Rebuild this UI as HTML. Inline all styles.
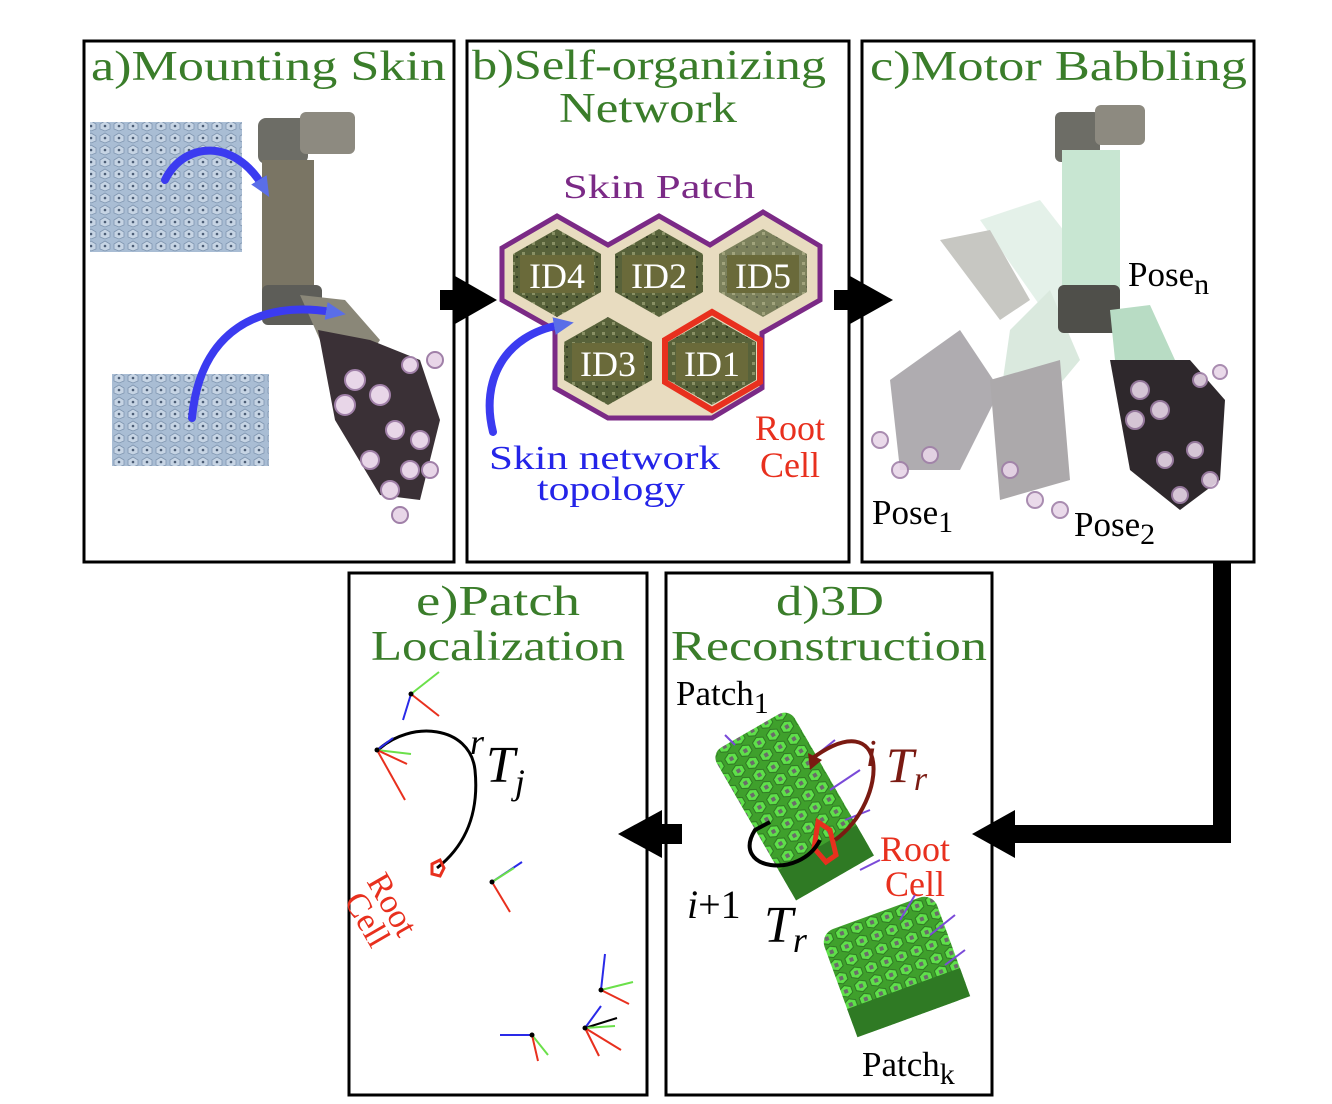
<!DOCTYPE html>
<html><head><meta charset="utf-8"><style>
html,body{margin:0;padding:0;background:#fff;}
svg{display:block}
text{font-family:"Liberation Serif",serif;}
</style></head><body>
<svg width="1332" height="1104" viewBox="0 0 1332 1104" xmlns="http://www.w3.org/2000/svg">
<defs>
<pattern id="hexg" width="14" height="12" patternUnits="userSpaceOnUse">
<rect width="14" height="12" fill="#a9bdd4"/>
<polygon points="7,1 12,4 12,9 7,11 2,9 2,4" fill="#c6d4e4" stroke="#7f95b0" stroke-width="0.8"/>
<circle cx="7" cy="6" r="1.3" fill="#4c5d75"/>
</pattern>
<pattern id="greenp" width="16" height="14" patternUnits="userSpaceOnUse">
<rect width="16" height="14" fill="#3fa02c"/>
<polygon points="8,1 14,4 14,10 8,13 2,10 2,4" fill="#5fe04a" stroke="#2a6a20" stroke-width="0.8"/>
<rect x="6" y="5" width="4" height="4" fill="#6b6b6b"/>
</pattern>
<pattern id="texp" width="10" height="10" patternUnits="userSpaceOnUse">
<rect width="10" height="10" fill="#58623a"/>
<rect x="2" y="2" width="3" height="3" fill="#8a9166"/>
<rect x="6" y="6" width="2" height="2" fill="#2f3a22"/>
</pattern>
<marker id="ah" markerUnits="userSpaceOnUse" markerWidth="22" markerHeight="22" refX="6" refY="11" orient="auto"><path d="M0,2 L20,11 L0,20 z" fill="#5a6ee8"/></marker>
</defs>

<g fill="none" stroke="#000" stroke-width="3">
<rect x="84" y="41" width="370" height="521"/>
<rect x="467" y="41" width="382" height="521"/>
<rect x="862" y="41" width="392" height="521"/>
<rect x="349" y="573" width="298" height="522"/>
<rect x="666" y="573" width="326" height="522"/>
</g>

<rect x="440" y="290" width="22" height="20" fill="#000"/>
<polygon points="455,276 497,300 455,324" fill="#000"/>
<rect x="834" y="290" width="22" height="20" fill="#000"/>
<polygon points="850,276 893,300 850,324" fill="#000"/>
<polyline points="1222,562 1222,834 1010,834" fill="none" stroke="#000" stroke-width="18"/>
<polygon points="1015,810 972,834 1015,858" fill="#000"/>
<rect x="658" y="824" width="24" height="20" fill="#000"/>
<polygon points="662,810 618,834 662,858" fill="#000"/>

<g fill="#3a7d2a" font-size="42">
<text x="91" y="80" textLength="355" lengthAdjust="spacingAndGlyphs">a)Mounting Skin</text>
<text x="472" y="79" textLength="354" lengthAdjust="spacingAndGlyphs">b)Self-organizing</text>
<text x="559" y="122" textLength="178" lengthAdjust="spacingAndGlyphs">Network</text>
<text x="870" y="80" textLength="377" lengthAdjust="spacingAndGlyphs">c)Motor Babbling</text>
<text x="416" y="615" textLength="164" lengthAdjust="spacingAndGlyphs">e)Patch</text>
<text x="371" y="660" textLength="254" lengthAdjust="spacingAndGlyphs">Localization</text>
<text x="776" y="615" textLength="108" lengthAdjust="spacingAndGlyphs">d)3D</text>
<text x="671" y="660" textLength="316" lengthAdjust="spacingAndGlyphs">Reconstruction</text>
</g>

<!-- panel a -->
<rect x="90" y="122" width="152" height="130" fill="url(#hexg)"/>
<rect x="112" y="374" width="157" height="92" fill="url(#hexg)"/>
<g>
<rect x="258" y="118" width="50" height="46" rx="8" fill="#6d6d66"/>
<rect x="300" y="112" width="55" height="42" rx="6" fill="#8d8a80"/>
<rect x="262" y="160" width="52" height="130" fill="#7a7564"/>
<rect x="262" y="285" width="60" height="40" rx="6" fill="#5d5d58"/>
<polygon points="300,295 345,300 380,340 360,370 320,340" fill="#8a8778"/>
<polygon points="318,330 370,340 420,360 440,420 420,500 380,495 335,420" fill="#3a3036"/>
<g fill="#e8d6e8" stroke="#a080a8" stroke-width="2">
<circle cx="355" cy="380" r="10"/><circle cx="380" cy="395" r="10"/><circle cx="345" cy="405" r="10"/>
<circle cx="410" cy="365" r="8"/><circle cx="435" cy="360" r="8"/><circle cx="395" cy="430" r="9"/>
<circle cx="420" cy="440" r="9"/><circle cx="410" cy="470" r="9"/><circle cx="390" cy="490" r="9"/>
<circle cx="370" cy="460" r="9"/><circle cx="430" cy="470" r="8"/><circle cx="400" cy="515" r="8"/>
</g>
</g>
<path d="M165,180 C185,140 235,140 262,185" fill="none" stroke="#3b3bf0" stroke-width="8" marker-end="url(#ah)" stroke-linecap="round"/>
<path d="M192,418 C200,330 260,300 332,312" fill="none" stroke="#3b3bf0" stroke-width="8" marker-end="url(#ah)" stroke-linecap="round"/>

<!-- panel b -->
<text x="563" y="198" fill="#7b2a86" font-size="34" textLength="192" lengthAdjust="spacingAndGlyphs">Skin Patch</text>
<polygon points="502,248 557,216 608,245 659,216 710,245 763,212 820,246 820,300 762,333 762,388 712,418 608,418 555,388 555,330 502,300" fill="#e8dcc0" stroke="#7b2a86" stroke-width="5"/>
<g fill="url(#texp)">
<polygon points="557,229 601,254 601,292 557,317 513,292 513,254"/>
<polygon points="659,229 703,254 703,292 659,317 615,292 615,254"/>
<polygon points="763,229 807,254 807,292 763,317 719,292 719,254" opacity="0.75"/>
<polygon points="608,317 652,342 652,380 608,405 564,380 564,342"/>
<polygon points="712,317 756,342 756,380 712,405 668,380 668,342"/>
</g>
<polygon points="712,312 760,340 760,382 712,410 665,382 665,340" fill="none" stroke="#e8301e" stroke-width="6"/>
<g fill="#6a6a3a">
<rect x="520" y="255" width="74" height="38"/><rect x="622" y="255" width="74" height="38"/><rect x="727" y="255" width="72" height="38"/>
<rect x="572" y="343" width="72" height="38"/><rect x="676" y="343" width="72" height="38"/>
</g>
<g fill="#fff" font-size="36" text-anchor="middle">
<text x="557" y="288">ID4</text><text x="659" y="288">ID2</text><text x="763" y="288">ID5</text>
<text x="608" y="376">ID3</text><text x="712" y="376">ID1</text>
</g>
<path d="M493,432 C480,380 505,335 560,325" fill="none" stroke="#3b3bf0" stroke-width="8" marker-end="url(#ah)" stroke-linecap="round"/>
<g fill="#2424e8" font-size="34">
<text x="489" y="469" textLength="231" lengthAdjust="spacingAndGlyphs">Skin network</text><text x="537" y="500" textLength="148" lengthAdjust="spacingAndGlyphs">topology</text>
</g>
<g fill="#e8301e" font-size="36" text-anchor="middle">
<text x="790" y="440">Root</text><text x="790" y="477">Cell</text>
</g>

<!-- panel c -->
<g opacity="0.55">
<polygon points="980,220 1040,200 1110,290 1050,320" fill="#cfe6d8"/>
<polygon points="940,240 990,230 1030,300 1000,320" fill="#9a9a92"/>
<polygon points="890,380 960,330 1000,390 960,470 900,470" fill="#6e6a70"/>
<polygon points="1010,330 1050,290 1080,360 1030,420 1000,400" fill="#bcd8c4"/>
<polygon points="990,380 1060,360 1070,480 1000,500" fill="#6a6468"/>
</g>
<rect x="1055" y="112" width="45" height="50" rx="6" fill="#6d6d66"/>
<rect x="1095" y="105" width="50" height="40" rx="6" fill="#8d8a80"/>
<rect x="1062" y="150" width="58" height="140" fill="#c8e6d2"/>
<rect x="1058" y="285" width="62" height="48" rx="6" fill="#4f4f4a"/>
<polygon points="1110,310 1150,305 1175,360 1150,390 1115,360" fill="#b8dcc4"/>
<polygon points="1110,360 1190,360 1225,400 1220,480 1180,510 1130,470" fill="#2e282c"/>
<g fill="#e8d6e8" stroke="#a080a8" stroke-width="2" opacity="0.9">
<circle cx="1140" cy="390" r="9"/><circle cx="1160" cy="410" r="9"/><circle cx="1135" cy="420" r="9"/>
<circle cx="1200" cy="380" r="7"/><circle cx="1220" cy="372" r="7"/><circle cx="1195" cy="450" r="8"/>
<circle cx="1210" cy="480" r="8"/><circle cx="1180" cy="495" r="8"/><circle cx="1165" cy="460" r="8"/>
<circle cx="880" cy="440" r="8"/><circle cx="900" cy="470" r="8"/><circle cx="930" cy="455" r="8"/>
<circle cx="1010" cy="470" r="8"/><circle cx="1035" cy="500" r="8"/><circle cx="1060" cy="510" r="8"/>
</g>
<g fill="#000" font-size="35">
<text x="1128" y="286">Pose<tspan font-size="30" dy="8">n</tspan></text>
<text x="872" y="524">Pose<tspan font-size="30" dy="8">1</tspan></text>
<text x="1074" y="536">Pose<tspan font-size="30" dy="8">2</tspan></text>
</g>

<!-- panel d -->
<text x="676" y="705" font-size="35" fill="#000">Patch<tspan font-size="30" dy="8">1</tspan></text>
<g transform="rotate(-30 790 800)">
<rect x="745" y="720" width="90" height="170" rx="12" fill="url(#greenp)"/>
<rect x="745" y="855" width="90" height="35" fill="#2f7a24"/>
</g>
<g stroke="#7a4ad8" stroke-width="2">
<line x1="810" y1="760" x2="835" y2="740"/><line x1="830" y1="790" x2="860" y2="770"/><line x1="845" y1="820" x2="870" y2="810"/>
<line x1="735" y1="745" x2="725" y2="735"/><line x1="860" y1="870" x2="880" y2="860"/>
</g>
<polygon points="818,822 830,830 836,855 826,862 814,848" fill="none" stroke="#e8301e" stroke-width="5"/>
<path d="M835,840 C890,800 890,700 810,760" fill="none" stroke="#7a1a12" stroke-width="4"/>
<polygon points="808,753 822,760 810,770" fill="#7a1a12"/>
<path d="M820,840 C800,880 730,870 755,830 L770,822" fill="none" stroke="#000" stroke-width="4"/>
<text x="866" y="766" font-size="38" fill="#7a1a12" font-style="italic">i</text>
<text x="886" y="782" font-size="50" fill="#7a1a12" font-style="italic">T<tspan font-size="34" dy="8">r</tspan></text>
<g fill="#e8301e" font-size="36" text-anchor="middle"><text x="915" y="861">Root</text><text x="915" y="896">Cell</text></g>
<text x="687" y="918" font-size="40" fill="#000"><tspan font-style="italic">i</tspan>+1</text>
<text x="764" y="942" font-size="52" fill="#000" font-style="italic">T<tspan font-size="36" dy="10">r</tspan></text>
<g transform="rotate(-20 895 965)">
<rect x="835" y="910" width="120" height="110" rx="14" fill="url(#greenp)"/>
<rect x="835" y="990" width="120" height="30" fill="#2f7a24"/>
</g>
<g stroke="#7a4ad8" stroke-width="2">
<line x1="900" y1="920" x2="915" y2="895"/><line x1="930" y1="935" x2="955" y2="915"/><line x1="945" y1="965" x2="965" y2="950"/>
</g>
<text x="862" y="1076" font-size="35" fill="#000">Patch<tspan font-size="30" dy="8">k</tspan></text>

<!-- panel e -->
<path d="M378,750 C410,720 470,725 475,770 C480,820 460,850 437,868" fill="none" stroke="#000" stroke-width="3"/>
<polygon points="432,864 440,860 444,868 440,876 432,874" fill="none" stroke="#e8301e" stroke-width="3"/>
<text x="470" y="754" font-size="36" font-style="italic">r</text>
<text x="486" y="782" font-size="52" font-style="italic">T<tspan font-size="36" dy="12">j</tspan></text>
<text x="400" y="920" font-size="34" fill="#e8301e" transform="rotate(60 400 900)" text-anchor="middle">Root</text>
<text x="375" y="935" font-size="34" fill="#e8301e" transform="rotate(60 375 915)" text-anchor="middle">Cell</text>
<g stroke-width="2">
<g transform="translate(411,694)"><line x2="28" y2="-22" stroke="#6be04a"/><line x2="-8" y2="26" stroke="#2a2ae8"/><line x2="28" y2="22" stroke="#e8301e"/><circle r="2.5" fill="#000"/></g>
<g transform="translate(377,750)"><line x2="34" y2="4" stroke="#6be04a"/><line x2="16" y2="-12" stroke="#2a2ae8"/><line x2="28" y2="50" stroke="#e8301e"/><line x2="30" y2="14" stroke="#e8301e"/><circle r="2.5" fill="#000"/></g>
<g transform="translate(492,882)"><line x2="30" y2="-20" stroke="#2a2ae8"/><line x2="22" y2="-14" stroke="#6be04a"/><line x2="18" y2="30" stroke="#e8301e"/><circle r="2.5" fill="#000"/></g>
<g transform="translate(532,1035)"><line x2="-32" y2="0" stroke="#2a2ae8"/><line x2="16" y2="20" stroke="#6be04a"/><line x2="6" y2="26" stroke="#e8301e"/><circle r="2.5" fill="#000"/></g>
<g transform="translate(601,990)"><line x2="4" y2="-36" stroke="#2a2ae8"/><line x2="32" y2="-8" stroke="#6be04a"/><line x2="28" y2="14" stroke="#e8301e"/><circle r="2.5" fill="#000"/></g>
<g transform="translate(585,1028)"><line x2="32" y2="-10" stroke="#000"/><line x2="30" y2="-2" stroke="#6be04a"/><line x2="16" y2="-22" stroke="#2a2ae8"/><line x2="36" y2="22" stroke="#e8301e"/><line x2="14" y2="28" stroke="#e8301e"/><circle r="2.5" fill="#000"/></g>
</g>
</svg>
</body></html>
